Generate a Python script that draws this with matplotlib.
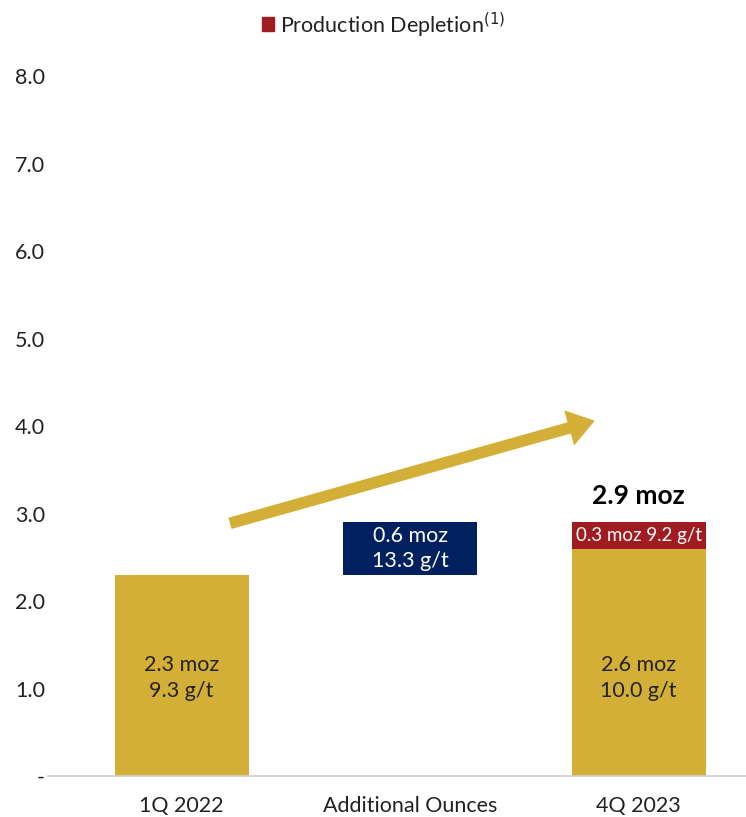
import matplotlib.pyplot as plt
from matplotlib.patches import FancyArrowPatch

plt.rcParams['font.family'] = ['Lato', 'DejaVu Sans']

# data
categories = ['1Q 2022', 'Additional Ounces', '4Q 2023']
base_moz = [0.0, 2.3, 0.0]
gold_moz = [2.3, 0.0, 2.6]
added_moz = [0.0, 0.6, 0.0]
depletion_moz = [0.0, 0.0, 0.3]
bar_labels = ['2.3 moz\n9.3 g/t', '0.6 moz\n13.3 g/t', '2.6 moz\n10.0 g/t']
depletion_label = '0.3 moz 9.2 g/t'
total_label = '2.9 moz'
yticks = [0, 1, 2, 3, 4, 5, 6, 7, 8]
ytick_labels = ['-', '1.0', '2.0', '3.0', '4.0', '5.0', '6.0', '7.0', '8.0']

gold = '#D4AF37'
navy = '#002060'
red = '#A11C20'

fig = plt.figure(figsize=(7.46, 8.17), dpi=100)
ax = fig.add_axes([0.064, 0.05, 0.936, 0.857])

x = list(range(len(categories)))
w = 0.586
ax.bar(x, gold_moz, width=w, color=gold)
ax.bar(x, added_moz, width=w, bottom=base_moz, color=navy)
ax.bar(x, depletion_moz, width=w, bottom=gold_moz, color=red)

# labels inside bars
ax.text(0, 1.12, bar_labels[0], ha='center', va='center', fontsize=15.5, color='#222222', linespacing=1.35)
ax.text(1, base_moz[1] + added_moz[1] / 2, bar_labels[1], ha='center', va='center',
        fontsize=15.5, color='white', linespacing=1.35)
ax.text(2, 1.12, bar_labels[2], ha='center', va='center', fontsize=15.5, color='#222222', linespacing=1.35)
ax.text(2, gold_moz[2] + depletion_moz[2] / 2, depletion_label, ha='center', va='center',
        fontsize=13.5, color='white')
ax.text(2, gold_moz[2] + depletion_moz[2] + 0.3, total_label, ha='center', va='center',
        fontsize=19, fontweight='bold', color='black')

# growth arrow
arr = FancyArrowPatch((0.2, 2.88), (1.82, 4.07), arrowstyle='simple,head_length=1.6,head_width=2.2,tail_width=0.7',
                      mutation_scale=12, color=gold, lw=0)
ax.add_patch(arr)

ax.set_xlim(-0.586, 2.47)
ax.set_ylim(0, 8)
ax.set_yticks(yticks)
ax.set_yticklabels(ytick_labels, fontsize=15.5, color='#222222')
ax.set_xticks(x)
ax.set_xticklabels(categories, fontsize=15.5, color='#222222')
ax.tick_params(length=0)
ax.tick_params(axis='x', pad=14)
ax.tick_params(axis='y', pad=2)
for s in ['top', 'right', 'left']:
    ax.spines[s].set_visible(False)
ax.spines['bottom'].set_color('#d0d0d0')
ax.spines['bottom'].set_linewidth(1.2)

# legend
fig.patches.append(plt.Rectangle((262 / 746, 1 - 31 / 817), 12 / 746, 14 / 817,
                                 transform=fig.transFigure, color=red, figure=fig))
fig.text(280 / 746, 1 - 25 / 817, 'Production Depletion$^{(1)}$', fontsize=15.5,
         va='center', ha='left', color='#222222')

fig.savefig('out.png', dpi=100)
